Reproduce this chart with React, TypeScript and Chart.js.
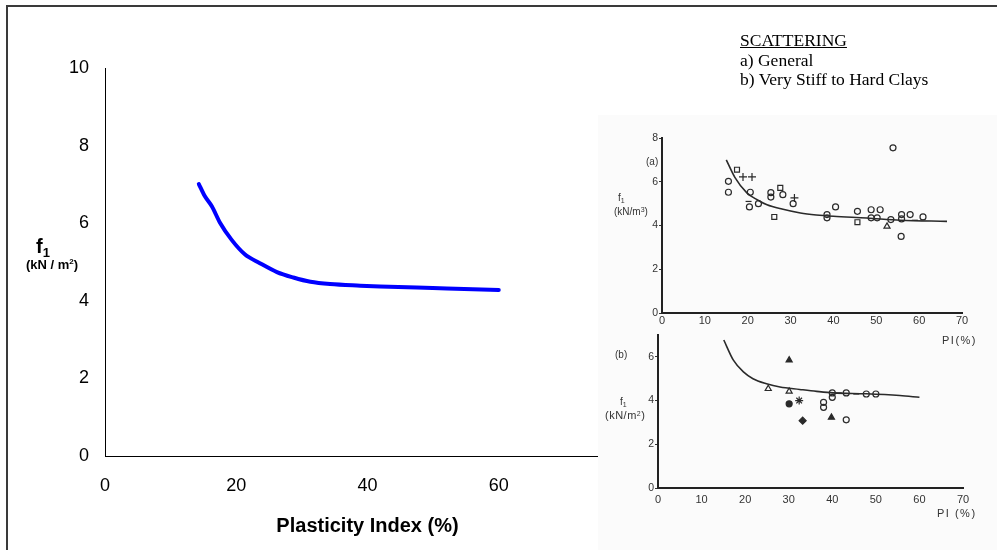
import React, { useEffect, useRef } from "react";
import { Chart, registerables } from "chart.js";

Chart.register(...registerables);

// ---- Main chart data ----
const mainPI = [14.3, 15.2, 16.3, 17.5, 19.3, 21.3, 23.6, 26.2, 28.7, 31.3, 34.3, 38.9, 41.9, 47.5, 52.1, 60.0];
const mainF1 = [7.01, 6.7, 6.43, 6.02, 5.57, 5.2, 4.97, 4.74, 4.6, 4.49, 4.43, 4.39, 4.37, 4.34, 4.32, 4.28];
const mainXTicks = [0, 20, 40, 60, 80];
const mainYTicks = [0, 2, 4, 6, 8, 10];
const mainXTitle = "Plasticity Index (%)";

// ---- Inset (a): General ----
const aCurvePI = [15, 17, 19.8, 22.2, 24.5, 28, 32.3, 36, 40, 47.8, 55.6, 66.5];
const aCurveF1 = [7.0, 6.2, 5.49, 5.18, 4.95, 4.75, 4.57, 4.48, 4.42, 4.34, 4.24, 4.19];
const aCirclePI = [15.5, 15.5, 20.6, 20.4, 22.5, 25.4, 25.4, 28.2, 30.6, 38.5, 38.5, 40.5, 45.6, 48.8, 48.8, 50.9, 50.2, 53.4, 53.9, 55.8, 55.9, 55.9, 57.9, 60.9];
const aCircleF1 = [6.02, 5.52, 5.52, 4.85, 5.0, 5.5, 5.3, 5.41, 5.0, 4.5, 4.35, 4.85, 4.65, 4.72, 4.35, 4.72, 4.35, 4.27, 7.55, 3.5, 4.5, 4.3, 4.5, 4.39];
const aSquarePI = [17.5, 27.6, 26.2, 45.6];
const aSquareF1 = [6.55, 5.72, 4.39, 4.15];
const aPlusPI = [18.9, 21.0, 30.9];
const aPlusF1 = [6.22, 6.22, 5.26];
const aDashPI = [59.0, 20.2];
const aDashF1 = [4.24, 5.1];
const aTriPI = [52.5];
const aTriF1 = [3.96];

// ---- Inset (b): Very stiff to hard clays ----
const bCurvePI = [15.1, 17.3, 19.6, 21.8, 24.9, 28.0, 32.5, 36.4, 40.2, 47.8, 55.5, 60.0];
const bCurveF1 = [6.77, 5.85, 5.31, 5.0, 4.77, 4.62, 4.51, 4.42, 4.35, 4.31, 4.23, 4.15];
const bFilledTriPI = [30.1, 39.8];
const bFilledTriF1 = [5.85, 3.23];
const bOpenTriPI = [25.3, 30.1];
const bOpenTriF1 = [4.54, 4.42];
const bDotPI = [30.1];
const bDotF1 = [3.85];
const bStarPI = [32.4];
const bStarF1 = [4.0];
const bPentPI = [33.2];
const bPentF1 = [3.08];
const bCirclePI = [38, 38, 40, 40, 43.2, 43.2, 47.8, 50];
const bCircleF1 = [3.92, 3.69, 4.35, 4.15, 3.12, 4.35, 4.3, 4.3];
const bDashPI = [41.5, 45.5];
const bDashF1 = [4.35, 4.3];

const SANS = '"Liberation Sans", Arial, sans-serif';
const SERIF = '"Liberation Serif", "Times New Roman", serif';
const INK = "#2a2a2a";

const pts = (xs: number[], ys: number[]) => xs.map((x, i) => ({ x, y: ys[i] }));

const markerSet = (xs: number[], ys: number[], style: string, radius: number, filled: boolean) => ({
  data: pts(xs, ys),
  showLine: false,
  pointStyle: style,
  pointRadius: radius,
  pointBorderWidth: 1.2,
  pointBorderColor: INK,
  pointBackgroundColor: filled ? INK : "rgba(0,0,0,0)",
  borderColor: INK,
  backgroundColor: filled ? INK : "rgba(0,0,0,0)",
});

const curveSet = (xs: number[], ys: number[]) => ({
  data: pts(xs, ys),
  showLine: true,
  borderColor: INK,
  borderWidth: 1.6,
  pointRadius: 0,
  tension: 0.4,
  cubicInterpolationMode: "monotone",
  fill: false,
});

function insetOptions(opts: {
  yMax: number;
  yWidth: number;
  xHeight: number;
  padRight: number;
  padTop: number;
  xPad: number;
}) {
  return {
    animation: false,
    responsive: false,
    devicePixelRatio: 1,
    events: [],
    layout: { padding: { left: 0, right: opts.padRight, top: opts.padTop, bottom: 0 } },
    plugins: { legend: { display: false }, tooltip: { enabled: false } },
    scales: {
      x: {
        type: "linear",
        min: 0,
        max: 70,
        ticks: { stepSize: 10, padding: opts.xPad, font: { family: SANS, size: 11 }, color: "#333", maxRotation: 0 },
        grid: { display: false, drawTicks: false },
        border: { display: true, color: "#222", width: 2 },
        afterFit: (s: any) => {
          s.height = opts.xHeight;
        },
      },
      y: {
        type: "linear",
        min: 0,
        max: opts.yMax,
        ticks: { stepSize: 2, padding: 1, font: { family: SANS, size: 10.5 }, color: "#333" },
        grid: { display: true, drawOnChartArea: false, drawTicks: true, tickLength: 3, color: "#333", lineWidth: 1 },
        border: { display: true, color: "#222", width: 2 },
        afterBuildTicks: (s: any) => {
          s.ticks = s.ticks.filter((t: any) => t.value % 2 === 0);
        },
        afterFit: (s: any) => {
          s.width = opts.yWidth;
        },
      },
    },
  };
}

export default function App() {
  const mainRef = useRef<HTMLCanvasElement | null>(null);
  const aRef = useRef<HTMLCanvasElement | null>(null);
  const bRef = useRef<HTMLCanvasElement | null>(null);

  useEffect(() => {
    const charts: Chart[] = [];
    if (mainRef.current) {
      charts.push(
        new Chart(mainRef.current, {
          type: "scatter",
          data: {
            datasets: [
              {
                data: pts(mainPI, mainF1),
                showLine: true,
                borderColor: "#0000ff",
                borderWidth: 4,
                pointRadius: 0,
                tension: 0.4,
                cubicInterpolationMode: "monotone",
                borderCapStyle: "round",
                borderJoinStyle: "round",
                fill: false,
              } as any,
            ],
          },
          options: {
            animation: false,
            responsive: false,
            devicePixelRatio: 1,
            events: [],
            layout: { padding: { left: 0, right: 367, top: 68, bottom: 0 } },
            plugins: { legend: { display: false }, tooltip: { enabled: false } },
            scales: {
              x: {
                type: "linear",
                min: mainXTicks[0],
                max: mainXTicks[mainXTicks.length - 1],
                ticks: { stepSize: 20, padding: 19, font: { family: SANS, size: 18 }, color: "#000", maxRotation: 0 },
                grid: { display: false, drawTicks: false },
                border: { display: true, color: "#000", width: 1 },
                title: {
                  display: true,
                  text: mainXTitle,
                  font: { family: SANS, size: 20, weight: "bold" },
                  color: "#000",
                  padding: { top: 0, bottom: 12 },
                },
                afterFit: (s: any) => {
                  s.height = 94;
                },
              },
              y: {
                type: "linear",
                min: mainYTicks[0],
                max: mainYTicks[mainYTicks.length - 1],
                ticks: { stepSize: 2, padding: 16, font: { family: SANS, size: 18 }, color: "#000" },
                grid: { display: false, drawTicks: false },
                border: { display: true, color: "#000", width: 1 },
                afterFit: (s: any) => {
                  s.width = 105;
                },
              },
            },
          } as any,
        })
      );
    }
    if (aRef.current) {
      charts.push(
        new Chart(aRef.current, {
          type: "scatter",
          data: {
            datasets: [
              curveSet(aCurvePI, aCurveF1),
              markerSet(aCirclePI, aCircleF1, "circle", 3, false),
              markerSet(aSquarePI, aSquareF1, "rect", 3.5, false),
              markerSet(aPlusPI, aPlusF1, "cross", 4, false),
              markerSet(aDashPI, aDashF1, "line", 3, false),
              markerSet(aTriPI, aTriF1, "triangle", 3.5, false),
            ] as any,
          },
          options: insetOptions({ yMax: 8, yWidth: 64, xHeight: 37, padRight: 35, padTop: 23, xPad: 1 }) as any,
        })
      );
    }
    if (bRef.current) {
      charts.push(
        new Chart(bRef.current, {
          type: "scatter",
          data: {
            datasets: [
              curveSet(bCurvePI, bCurveF1),
              markerSet(bFilledTriPI, bFilledTriF1, "triangle", 3.5, true),
              markerSet(bOpenTriPI, bOpenTriF1, "triangle", 3.5, false),
              markerSet(bDotPI, bDotF1, "circle", 3, true),
              markerSet(bStarPI, bStarF1, "star", 4, false),
              markerSet(bPentPI, bPentF1, "rectRot", 3.5, true),
              markerSet(bCirclePI, bCircleF1, "circle", 3, false),
              markerSet(bDashPI, bDashF1, "line", 3, false),
            ] as any,
          },
          options: insetOptions({ yMax: 7, yWidth: 60, xHeight: 62, padRight: 34, padTop: 10, xPad: 5 }) as any,
        })
      );
    }
    return () => {
      charts.forEach((c) => c.destroy());
    };
  }, []);

  const small: React.CSSProperties = {
    position: "absolute",
    font: `10px ${SANS}`,
    color: "#333",
    lineHeight: "12px",
    whiteSpace: "nowrap",
  };

  return (
    <div
      style={{
        position: "fixed",
        left: 0,
        top: 0,
        width: 997,
        height: 550,
        overflow: "hidden",
        background: "#ffffff",
      }}
    >
      <div
        style={{
          position: "absolute",
          left: 6,
          top: 5,
          width: 1200,
          height: 800,
          borderLeft: "2px solid #3a3a3a",
          borderTop: "2px solid #3a3a3a",
        }}
      />
      <canvas ref={mainRef} width={997} height={550} style={{ position: "absolute", left: 0, top: 0 }} />

      <div
        style={{
          position: "absolute",
          left: 36,
          top: 236,
          font: `bold 20px ${SANS}`,
          lineHeight: "20px",
          whiteSpace: "nowrap",
          color: "#000",
        }}
      >
        f<span style={{ fontSize: 13, position: "relative", top: 4 }}>1</span>
      </div>
      <div
        style={{
          position: "absolute",
          left: 26,
          top: 258,
          font: `bold 13px ${SANS}`,
          lineHeight: "13px",
          whiteSpace: "nowrap",
          color: "#000",
        }}
      >
        (kN / m<span style={{ fontSize: 8, position: "relative", top: -5 }}>2</span>)
      </div>

      <div
        style={{
          position: "absolute",
          left: 740,
          top: 31,
          font: `17.5px ${SERIF}`,
          lineHeight: "19.5px",
          whiteSpace: "nowrap",
          color: "#000",
        }}
      >
        <div style={{ textDecoration: "underline" }}>SCATTERING</div>
        <div>a) General</div>
        <div>b) Very Stiff to Hard Clays</div>
      </div>

      <div
        style={{
          position: "absolute",
          left: 598,
          top: 115,
          width: 399,
          height: 435,
          background: "#fbfbfb",
        }}
      />
      <canvas ref={aRef} width={399} height={235} style={{ position: "absolute", left: 598, top: 115 }} />
      <canvas ref={bRef} width={399} height={225} style={{ position: "absolute", left: 598, top: 325 }} />

      <div style={{ ...small, left: 646, top: 156 }}>(a)</div>
      <div style={{ ...small, left: 618, top: 192 }}>
        f<span style={{ fontSize: 7, position: "relative", top: 2 }}>1</span>
      </div>
      <div style={{ ...small, left: 614, top: 206 }}>
        (kN/m<span style={{ fontSize: 7, position: "relative", top: -3 }}>3</span>)
      </div>
      <div style={{ ...small, left: 942, top: 334, letterSpacing: 1.5, fontSize: 11 }}>PI(%)</div>

      <div style={{ ...small, left: 615, top: 349 }}>(b)</div>
      <div style={{ ...small, left: 620, top: 396 }}>
        f<span style={{ fontSize: 7, position: "relative", top: 2 }}>1</span>
      </div>
      <div style={{ ...small, left: 605, top: 409, fontSize: 11, letterSpacing: 0.5 }}>
        (kN/m<span style={{ fontSize: 7, position: "relative", top: -3 }}>2</span>)
      </div>
      <div style={{ ...small, left: 937, top: 507, letterSpacing: 1.5, fontSize: 11 }}>PI (%)</div>
    </div>
  );
}
